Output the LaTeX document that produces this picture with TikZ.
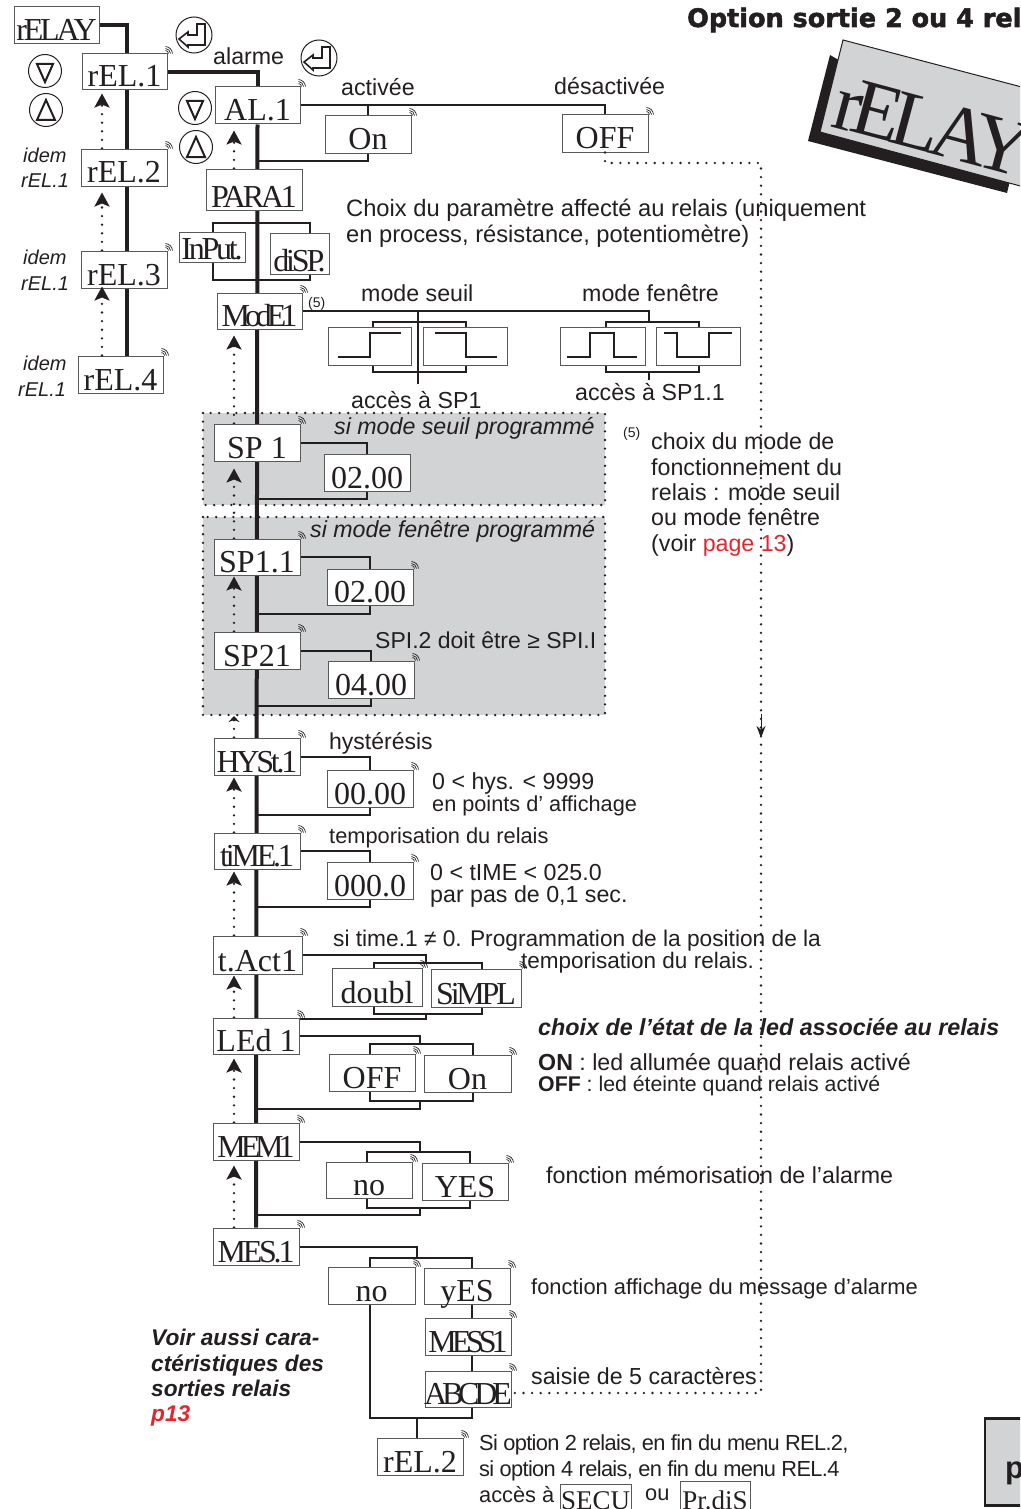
\documentclass[tikz,border=0pt]{standalone}
\usepackage{fontspec}
\usetikzlibrary{arrows.meta,backgrounds,calc}
\setmainfont{Liberation Sans}
\newfontfamily\serifb{Liberation Serif}
\newfontfamily\serift[LetterSpace=-10]{Liberation Serif}
\newfontfamily\seriftt[LetterSpace=-16]{Liberation Serif}
\newfontfamily\sanst[LetterSpace=-3]{Liberation Sans}
\newfontfamily\titlef[BoldFeatures={FakeBold=2}]{DejaVu Sans}
\definecolor{ink}{HTML}{231F20}
\definecolor{pan}{HTML}{D1D3D4}
\definecolor{edge}{HTML}{58595B}
\definecolor{redt}{HTML}{E3262E}
\newcommand{\fs}[1]{\fontsize{#1}{#1}\selectfont}
\tikzset{
  box/.style={draw=edge,fill=white,line width=1pt,inner sep=0pt,text=ink},
  wire/.style={draw=ink,line width=2pt},
  spine/.style={draw=ink,line width=4pt},
  dotline/.style={draw=ink,line width=2.6pt,line cap=round,dash pattern=on 0pt off 8.6pt},
  dotarrow/.style={dotline,-{Stealth[length=14pt,width=15pt,inset=3pt]}},
  tickm/.style={draw=ink,line width=.7pt},
  wave/.style={draw=ink,line width=1.1pt},
  icon/.style={draw=ink,circle,line width=1pt,inner sep=0pt},
  iconl/.style={draw=ink,line width=1.6pt,line join=miter},
  lab/.style={anchor=base west,inner sep=0pt,text=ink,font=\fs{23.2}},
  labs/.style={lab,font=\fs{21.8}},
  labi/.style={lab,font=\fs{20}\itshape},
  labb/.style={lab,font=\fs{22.7}\bfseries\itshape},
}
% optional font, name, x1,y1,x2,y2, text
\newcommand{\bx}[7][\serifb\fs{32}]{%
  \pgfmathsetmacro\bw{#5-#3}\pgfmathsetmacro\bh{#6-#4}%
  \pgfmathsetmacro\bcx{(#3+#5)/2}\pgfmathsetmacro\bcy{(#4+#6)/2}%
  \pgfmathsetmacro\bd{\bh/2-3}%
  \node[box,minimum width=\bw pt,minimum height=\bh pt] (#2) at (\bcx,\bcy) {\smash{\raisebox{-\bd pt}{\makebox[0pt][c]{#1#7}}}};}
\newcommand{\tk}[1]{%
  \draw[tickm] ([shift={(-2pt,3pt)}]#1.north east) to[bend left=40] ([shift={(1pt,0pt)}]#1.north east);
  \draw[tickm] ([shift={(-2pt,5pt)}]#1.north east) to[bend left=40] ([shift={(3pt,0pt)}]#1.north east);
  \draw[tickm] ([shift={(-2pt,7pt)}]#1.north east) to[bend left=40] ([shift={(5pt,0pt)}]#1.north east);}
\newcommand{\brk}[6]{%
  \draw[wire] ([xshift=#2pt]#1.north) |- (#5) -| ([xshift=#4pt]#3.north);
  \draw[wire] ([xshift=#2pt]#1.south) |- (#6) -| ([xshift=#4pt]#3.south);}
\newcommand{\entr}[3]{%
  \node[icon,minimum size=36pt] (#1) at (#2,#3) {};
  \draw[iconl,shift={(#2,#3)}] (-15,4) -- (-6,-3) -- (-6,0) -- (3,0) -- (3,-11) -- (11,-11) -- (11,10) -- (-6,10) -- (-6,12) -- cycle;}
\newcommand{\dn}[3]{%
  \node[icon,minimum size=33pt] (#1) at (#2,#3) {};
  \draw[iconl,line width=2pt,shift={(#2,#3)}] (-8,-7) -- (8,-7) -- (0,11) -- cycle;}
\newcommand{\up}[3]{%
  \node[icon,minimum size=33pt] (#1) at (#2,#3) {};
  \draw[iconl,line width=2pt,shift={(#2,#3)}] (-9,10) -- (9,10) -- (0,-10) -- cycle;}
\begin{document}
\begin{tikzpicture}[x=1pt,y=-1pt]
\clip (0,0) rectangle (1020,1509);
\useasboundingbox (0,0) rectangle (1020,1509);
\coordinate (xs) at (127,0);
\coordinate (xb) at (102,0);
\coordinate (xa) at (234,0);
% title and card
\node[anchor=base west,inner sep=0pt,text=ink,font=\titlef\bfseries\fs{25.5}] (title) at (687,27) {Option sortie 2 ou 4 rel};
\fill[ink] (830,55) -- (808,141) -- (1007,193) -- (1015,160) -- cycle;
\draw[ink,fill=pan,line width=1pt] (843,40) -- (820,132) -- (1050,194) -- (1075,101) -- cycle;
\node[anchor=base west,inner sep=0pt,rotate=-15,text=ink,font=\serift\fs{80}] (bigrelay) at (829,126) {rELAY};
% bottom right tab
\draw[ink,fill=pan,line width=2.5pt] (985,1418.5) rectangle (1040,1505.5);
\node[anchor=base west,inner sep=0pt,text=ink,font=\bfseries\fs{31}] (ptab) at (1005,1478) {p};
% boxes
\bx[\serift\fs{32}]{relay}{14}{7}{99}{44}{rELAY}
\bx{rel1}{82}{54}{167}{90}{rEL.1}
\bx{rel2}{81}{149}{167}{186}{rEL.2}
\bx{rel3}{81}{251}{167}{288}{rEL.3}
\bx{rel4}{78}{356}{163}{393}{rEL.4}
\bx{al1}{215}{87}{300}{124}{AL.1}
\bx[\serift\fs{32}]{para}{206}{169}{302}{210}{PARA1}
\bx[\serift\fs{32}]{input}{179}{232}{245}{262}{InPut.}
\bx[\serift\fs{32}]{disp}{270}{233}{329}{274}{diSP.}
\bx[\seriftt\fs{32}]{mode}{217}{293}{302}{329}{ModE1}
\bx{on1}{325}{116}{411}{153}{On}
\bx{off1}{562}{115}{648}{152}{OFF}
\bx{m1}{328}{327}{411}{365}{}
\bx{m2}{423}{327}{507}{365}{}
\bx{m3}{560}{327}{645}{365}{}
\bx{m4}{656}{327}{740}{365}{}
\bx{sp1}{214}{424}{300}{461}{SP 1}
\bx{v1}{324}{454}{410}{491}{02.00}
\bx{sp11}{214}{539}{300}{575}{SP1.1}
\bx{v2}{327}{569}{413}{605}{02.00}
\bx{sp21}{214}{632}{300}{669}{SP21}
\bx{v3}{328}{661}{414}{698}{04.00}
\bx[\serift\fs{32}]{hyst}{214}{738}{300}{775}{HYSt.1}
\bx{v4}{327}{770}{413}{807}{00.00}
\bx[\serift\fs{32}]{time}{214}{833}{300}{869}{tiME.1}
\bx{v5}{327}{862}{413}{899}{000.0}
\bx{tact}{213}{936}{302}{974}{t.Act1}
\bx{doubl}{332}{968}{422}{1006}{doubl}
\bx[\serift\fs{32}]{simpl}{431}{969}{521}{1007}{SiMPL}
\bx{led}{213}{1018}{299}{1054}{LEd 1}
\bx{off2}{329}{1054}{415}{1091}{OFF}
\bx{on2}{424}{1055}{511}{1092}{On}
\bx[\seriftt\fs{32}]{mem}{213}{1123}{299}{1160}{MEM1}
\bx{no1}{326}{1162}{412}{1198}{no}
\bx{yes1}{422}{1163}{508}{1200}{YES}
\bx[\serift\fs{32}]{mes}{213}{1228}{299}{1265}{MES.1}
\bx{no2}{328}{1267}{415}{1304}{no}
\bx{yes2}{424}{1268}{510}{1304}{yES}
\bx[\seriftt\fs{32}]{mess}{425}{1318}{511}{1355}{MESS1}
\bx[\seriftt\fs{32}]{abcde}{425}{1371}{511}{1407}{ABCDE}
\bx{relb}{377}{1438}{463}{1475}{rEL.2}
\bx[\serifb\fs{27}]{secu}{560}{1484}{631}{1512}{SECU}
\bx[\serifb\fs{27}]{prdis}{680}{1481}{750}{1512}{Pr.diS}
% ticks
\foreach \n in {rel1,rel2,rel3,rel4,al1,mode,on1,off1,sp1,sp11,v2,sp21,v3,hyst,v4,time,v5,tact,doubl,simpl,led,off2,on2,mem,no1,yes1,mes,no2,yes2,mess,abcde,relb}{\tk{\n}}
% waveforms
\draw[wave] (338,357) -- (370,357) -- (370,333) -- (401,333);
\draw[wave] (435,333) -- (466,333) -- (466,357) -- (497,357);
\draw[wave] (567,357) -- (590,357) -- (590,333) -- (614,333) -- (614,357) -- (637,357);
\draw[wave] (664,333) -- (677,333) -- (677,357) -- (709,357) -- (709,333) -- (732,333);
% icons
\entr{e1}{194}{35}
\entr{e2}{319}{58}
\dn{d1}{45}{71}
\up{u1}{46}{110}
\dn{d2}{195}{108}
\up{u2}{196}{147}
% background connectors
\begin{scope}[on background layer]
\draw[dotline,fill=pan] (203,413) rectangle (605,505);
\draw[dotline,fill=pan] (203,517) rectangle (605,715);
\draw[spine] (relay.east) -| (rel1.north -| xs);
\draw[spine] (rel1.south -| xs) -- (rel4.north -| xs);
\draw[spine] (rel1.east) -| (al1.north);
\draw[spine] (al1.south) -- (mes.north);
% AL.1
\coordinate (r1) at (257,161);
\draw[wire] (al1.east) -| (off1.north);
\draw[wire] (on1.north) -- (on1.north |- al1.east);
\draw[wire] (on1.south) |- (r1);
% PARA1
\coordinate (pt) at (257,223); \coordinate (pb) at (257,280);
\brk{input}{1}{disp}{10}{pt}{pb}
% ModE1
\coordinate (c1t) at (418,322); \coordinate (c1b) at (418,372); \coordinate (c1e) at (418,384);
\coordinate (c2t) at (649,322); \coordinate (c2b) at (649,372); \coordinate (c2e) at (649,380);
\draw[wire] (mode.east) -| (c2t);
\draw[wire] (c1t |- mode.east) -- (c1e);
\draw[wire] (c2b) -- (c2e);
\brk{m1}{3}{m2}{1}{c1t}{c1b}
\brk{m3}{3}{m4}{1}{c2t}{c2b}
% value branches
\coordinate (r2) at (257,499); \draw[wire] (sp1.east) -| (v1.north); \draw[wire] (v1.south) |- (r2);
\coordinate (r3) at (257,614); \draw[wire] (sp11.east) -| (v2.north); \draw[wire] (v2.south) |- (r3);
\coordinate (r4) at (257,706); \draw[wire] (sp21.east) -| (v3.north); \draw[wire] (v3.south) |- (r4);
\coordinate (r5) at (257,815); \draw[wire] (hyst.east) -| (v4.north); \draw[wire] (v4.south) |- (r5);
\coordinate (r6) at (257,907); \draw[wire] (time.east) -| (v5.north); \draw[wire] (v5.south) |- (r6);
% t.Act1
\coordinate (t1) at (426,963); \coordinate (t2) at (426,1014); \coordinate (t3) at (257,1019);
\draw[wire] (tact.east) -| (t1);
\draw[wire] (t2) |- (t3);
\brk{doubl}{-3}{simpl}{6}{t1}{t2}
% LEd1
\coordinate (l1) at (420,1044); \coordinate (l2) at (420,1101); \coordinate (l3) at (257,1109);
\draw[wire] (led.east) -| (l1);
\draw[wire] (l2) |- (l3);
\brk{off2}{-2}{on2}{5}{l1}{l2}
% MEM1
\coordinate (n1) at (420,1152); \coordinate (n2) at (420,1208); \coordinate (n3) at (257,1215);
\draw[wire] (mem.east) -| (n1);
\draw[wire] (n2) |- (n3);
\brk{no1}{-2}{yes1}{5}{n1}{n2}
% MES.1
\coordinate (s1) at (417,1258); \coordinate (s2) at (417,1418);
\draw[wire] (mes.east) -| (s1);
\draw[wire] ([xshift=-2pt]no2.north) |- (s1) -| ([xshift=5pt]yes2.north);
\draw[wire] ([xshift=-2pt]no2.south) |- (s2) -| ([xshift=4pt]abcde.south);
\draw[wire] ([xshift=5pt]yes2.south) -- ([xshift=4pt]mess.north);
\draw[wire] ([xshift=4pt]mess.south) -- ([xshift=4pt]abcde.north);
\draw[wire] (s2) -- (s2 |- relb.north);
% dotted returns
\coordinate (gap) at (0,716);
\draw[dotarrow,shorten >=3pt] (rel2.north -| xb) -- (rel1.south -| xb);
\draw[dotarrow,shorten >=6pt] (rel3.north -| xb) -- (rel2.south -| xb);
\draw[dotarrow,shorten >=6pt] (para.north -| xa) -- (al1.south -| xa);
\draw[dotarrow,shorten >=6pt] (sp1.north -| xa) -- (mode.south -| xa);
\draw[dotarrow,shorten >=7pt] (sp11.north -| xa) -- (sp1.south -| xa);
\draw[dotarrow,shorten >=1pt] (sp21.north -| xa) -- (sp11.south -| xa);
\draw[dotline,-{Stealth[length=6pt,width=11pt]}] (hyst.north -| xa) -- (gap -| xa);
\draw[dotarrow,shorten >=2pt] (time.north -| xa) -- (hyst.south -| xa);
\draw[dotarrow,shorten >=2pt] (tact.north -| xa) -- (time.south -| xa);
\draw[dotarrow,shorten >=1pt] (led.north -| xa) -- (tact.south -| xa);
\draw[dotarrow,shorten >=4pt] (mem.north -| xa) -- (led.south -| xa);
\draw[dotarrow,shorten >=5pt] (mes.north -| xa) -- (mem.south -| xa);
\end{scope}
% this return's tip lies over the box above it
\draw[dotarrow,shorten >=-2pt] (rel4.north -| xb) -- (rel3.south -| xb);
% labels
\node[lab] (a1) at (213,65) {alarme};
\node[lab] (a2) at (341,96) {activée};
\node[lab] (a3) at (554,95) {désactivée};
\node[lab,font=\fs{23.7}] (a4) at (346,216) {Choix du paramètre affecté au relais (uniquement};
\node[lab,font=\fs{23.7}] (a5) at (346,242) {en process, résistance, potentiomètre)};
\node[lab] (a6) at (361,301) {mode seuil};
\node[lab] (a7) at (582,301) {mode fenêtre};
\node[lab] (a8) at (351,408) {accès à SP1};
\node[lab] (a9) at (575,400) {accès à SP1.1};
\node[lab,font=\fs{14}] (a10) at (308,307) {(5)};
\node[lab,font=\fs{14}] (a11) at (623,437) {(5)};
\node[lab] (a12) at (651,449) {choix du mode de};
\node[lab] (a13) at (651,475) {fonctionnement du};
\node[lab] (a14) at (651,500) {relais : mode seuil};
\node[lab] (a15) at (651,525) {ou mode fenêtre};
\node[lab] (a16) at (651,551) {(voir \textcolor{redt}{page 13})};
\node[lab,font=\fs{23.2}\itshape] (a17) at (334,434) {si mode seuil programmé};
\node[lab,font=\fs{23.2}\itshape] (a18) at (310,537) {si mode fenêtre programmé};
\node[lab,font=\fs{23}] (a19) at (375,648) {SPI.2 doit être ≥ SPI.I};
\node[lab,font=\fs{23}] (a20) at (329,749) {hystérésis};
\node[lab] (a21) at (432,789) {0 < hys. < 9999};
\node[lab,font=\fs{21.7}] (a22) at (432,811) {en points d' affichage};
\node[labs] (a23) at (329,843) {temporisation du relais};
\node[lab] (a24) at (430,880) {0 < tIME < 025.0};
\node[lab] (a25) at (430,902) {par pas de 0,1 sec.};
\node[lab,font=\fs{22.7}] (a26) at (333,946) {si time.1 ≠ 0. Programmation de la position de la};
\node[lab,font=\fs{22.5}] (a27) at (521,968) {temporisation du relais.};
\node[labb,font=\fs{23.3}\bfseries\itshape] (a28) at (538,1035) {choix de l’état de la led associée au relais};
\node[lab] (a29) at (538,1070) {\textbf{ON} : led allumée quand relais activé};
\node[lab,font=\fs{21.3}] (a30) at (538,1091) {\textbf{OFF} : led éteinte quand relais activé};
\node[lab] (a31) at (546,1183) {fonction mémorisation de l’alarme};
\node[lab,font=\fs{21.9}] (a32) at (531,1294) {fonction affichage du message d’alarme};
\node[lab] (a33) at (531,1384) {saisie de 5 caractères};
\node[labs,font=\sanst\fs{21.8}] (a34) at (479,1450) {Si option 2 relais, en fin du menu REL.2,};
\node[labs,font=\sanst\fs{21.8}] (a35) at (479,1476) {si option 4 relais, en fin du menu REL.4};
\node[labs] (a36) at (479,1502) {accès à};
\node[labs] (a37) at (645,1500) {ou};
\node[labb] (a38) at (151,1345) {Voir aussi cara-};
\node[labb] (a39) at (151,1371) {ctéristiques des};
\node[labb] (a40) at (151,1396) {sorties relais};
\node[labb,text=redt] (a41) at (151,1421) {p13};
\node[labi] (a42) at (23,162) {idem};
\node[labi] (a43) at (21,187) {rEL.1};
\node[labi] (a44) at (23,264) {idem};
\node[labi] (a45) at (21,290) {rEL.1};
\node[labi] (a46) at (23,370) {idem};
\node[labi] (a47) at (18,396) {rEL.1};
% long dotted return
\coordinate (dc) at (761,163);
\coordinate (dd) at (761,1393);
\draw[dotline] (off1.south) |- (dc) -- (dd) -- (abcde.east |- dd);
\draw[draw=ink,line width=1pt,-{Stealth[length=12pt,width=9pt]}] (761,714) -- (761,738);
\end{tikzpicture}
\end{document}
